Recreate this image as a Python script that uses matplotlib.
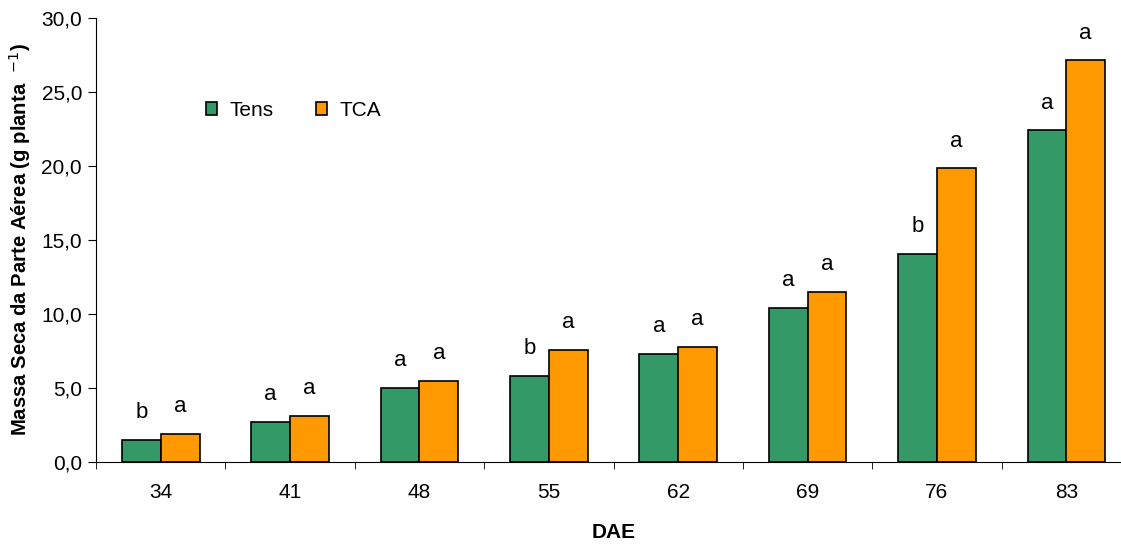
import numpy as np
import matplotlib.pyplot as plt
from matplotlib.ticker import FuncFormatter

plt.rcParams['font.family'] = ['Liberation Sans', 'DejaVu Sans']

dae = ['34', '41', '48', '55', '62', '69', '76', '83']
tens = [1.5, 2.7, 5.0, 5.8, 7.3, 10.4, 14.05, 22.4]
tca = [1.9, 3.1, 5.5, 7.6, 7.8, 11.5, 19.85, 27.15]
tens_letters = ['b', 'a', 'a', 'b', 'a', 'a', 'b', 'a']
tca_letters = ['a', 'a', 'a', 'a', 'a', 'a', 'a', 'a']

W, H = 1121, 546
fig = plt.figure(figsize=(W / 100, H / 100), dpi=100)
ax = fig.add_axes([96 / W, (H - 462) / H, (1131 - 96) / W, (462 - 18) / H])

x = np.arange(len(dae))
w = 0.3
ax.bar(x - w / 2, tens, w, color='#339966', edgecolor='black', linewidth=1.2, label='Tens')
ax.bar(x + w / 2, tca, w, color='#FF9900', edgecolor='black', linewidth=1.2, label='TCA')

# letras de significancia
for xi, v, t in zip(x - w / 2, tens, tens_letters):
    ax.annotate(t, (xi, v), xytext=(0, 12), textcoords='offset points',
                ha='center', va='bottom', fontsize=16)
for xi, v, t in zip(x + w / 2, tca, tca_letters):
    ax.annotate(t, (xi, v), xytext=(0, 12), textcoords='offset points',
                ha='center', va='bottom', fontsize=16)

ax.set_xlim(-0.5, len(dae) - 0.5)
ax.set_ylim(0, 30)
ax.set_yticks(np.arange(0, 31, 5))
ax.yaxis.set_major_formatter(FuncFormatter(lambda v, p: f'{v:.1f}'.replace('.', ',')))
ax.set_xticks(x)
ax.set_xticklabels(dae)
ax.set_xticks(np.arange(-0.5, len(dae), 1), minor=True)
ax.tick_params(axis='x', which='major', length=0, pad=15, labelsize=15)
ax.tick_params(axis='x', which='minor', length=5, direction='out')
ax.tick_params(axis='y', length=6, direction='out', labelsize=15, pad=4)

for s in ['top', 'right']:
    ax.spines[s].set_visible(False)

ax.set_xlabel('DAE', fontsize=15, fontweight='bold', labelpad=15)
ax.set_ylabel(r'Massa Seca da Parte Aérea (g planta  $^{-1}$)', fontsize=14.6,
              fontweight='bold', labelpad=6)

ax.legend(loc='upper left', bbox_to_anchor=(0.088, 0.855), ncol=2, frameon=False,
          fontsize=15, handlelength=0.55, handleheight=0.55, columnspacing=2.0,
          handletextpad=0.6)

fig.savefig('out.png', dpi=100)
